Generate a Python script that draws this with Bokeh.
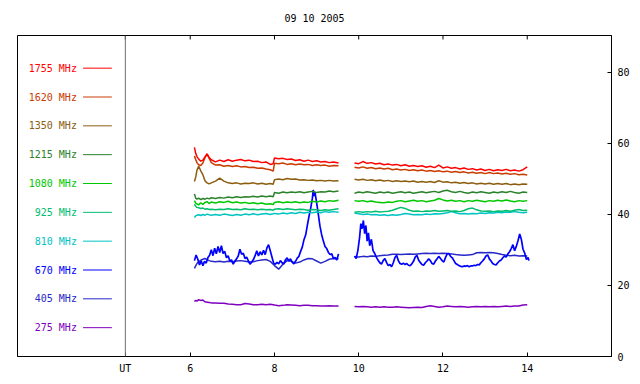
import numpy as np
from bokeh.plotting import figure
from bokeh.models import Range1d, FixedTicker, Span, ColumnDataSource
from bokeh.embed import file_html
from bokeh.resources import INLINE
from bokeh.core.properties import value

title_text = "09 10 2005"
labels = ["1755 MHz", "1620 MHz", "1350 MHz", "1215 MHz", "1080 MHz",
          "925 MHz", "810 MHz", "670 MHz", "405 MHz", "275 MHz"]
colors = ["#ff0000", "#c83c00", "#8b5e0f", "#2a832a", "#00c800",
          "#00be6e", "#00c3c3", "#0000ff", "#2828c8", "#8000c0"]
x_ticks = [4.46, 6, 8, 10, 12, 14]
y_ticks = [0, 20, 40, 60, 80]

# time grids (UT hours)
t1 = [6.10, 6.13, 6.16, 6.20, 6.25, 6.30, 6.35, 6.40, 6.45, 6.50,
      6.60, 6.70, 6.80, 6.90, 7.00, 7.10, 7.20, 7.30, 7.40, 7.50,
      7.60, 7.70, 7.80, 7.90, 7.97, 8.00, 8.10, 8.20, 8.30, 8.40,
      8.50, 8.60, 8.70, 8.80, 8.90, 9.00, 9.10, 9.20, 9.30, 9.40, 9.52]
t2 = [9.9, 10.0, 10.1, 10.2, 10.3, 10.4, 10.5, 10.6, 10.7, 10.8,
      10.9, 11.0, 11.1, 11.2, 11.3, 11.4, 11.5, 11.6, 11.7, 11.8,
      11.9, 12.0, 12.1, 12.2, 12.3, 12.4, 12.5, 12.6, 12.7, 12.8,
      12.9, 13.0, 13.1, 13.2, 13.3, 13.4, 13.5, 13.6, 13.7, 13.8, 13.9, 14.0]

f1755_a = [58.9, 57.2, 56.3, 55.6, 55.0, 55.3, 56.2, 57.1, 56.0, 55.4,
           54.8, 55.3, 54.9, 55.4, 55.0, 55.3, 55.5, 55.1, 55.3, 54.9,
           55.0, 54.6, 54.8, 54.1, 54.3, 55.9, 55.7, 55.8, 55.5, 55.6,
           55.2, 55.4, 55.0, 55.3, 54.9, 55.1, 54.8, 54.9, 54.6, 54.8, 54.5]
f1755_b = [54.5, 54.3, 54.9, 54.4, 54.6, 54.2, 54.4, 54.0, 54.2, 53.9,
           54.1, 53.7, 54.0, 53.6, 53.8, 53.5, 53.7, 53.3, 53.6, 53.2,
           53.9, 53.1, 53.4, 53.0, 53.2, 52.8, 53.1, 52.7, 52.9, 52.5,
           52.8, 52.4, 52.7, 52.3, 52.6, 52.4, 52.7, 52.3, 52.5, 52.2, 52.6, 53.4]
f1620_a = [56.5, 55.5, 54.6, 54.0, 53.8, 54.5, 56.0, 56.9, 55.8, 54.6,
           53.9, 54.0, 53.6, 53.8, 53.5, 53.7, 53.4, 53.5, 53.2, 53.3,
           53.0, 53.1, 52.8, 52.6, 52.2, 54.4, 54.3, 54.5, 54.1, 54.3,
           54.0, 54.2, 54.0, 54.1, 53.8, 54.0, 53.8, 53.9, 53.6, 53.8, 53.7]
f1620_b = [53.3, 53.1, 53.4, 53.0, 53.2, 52.9, 53.1, 52.8, 53.0, 52.6,
           52.8, 52.5, 52.7, 52.4, 52.6, 52.3, 52.5, 52.2, 52.4, 52.1,
           52.3, 52.0, 52.2, 51.9, 52.1, 51.8, 52.0, 51.7, 51.9, 51.6,
           51.8, 51.5, 51.8, 51.5, 51.7, 51.4, 51.6, 51.3, 51.5, 51.2, 51.3, 51.1]
f1350_a = [49.3, 50.5, 52.5, 53.6, 52.3, 51.2, 49.5, 48.9, 48.6, 48.9,
           49.4, 50.2, 49.4, 48.9, 48.7, 48.9, 48.6, 48.8, 48.7, 48.9,
           48.6, 48.8, 48.5, 48.7, 48.5, 49.8, 50.0, 49.8, 50.1, 49.9,
           50.0, 49.7, 49.8, 49.6, 49.7, 49.5, 49.6, 49.4, 49.6, 49.4, 49.5]
f1350_b = [49.9, 49.7, 49.9, 49.6, 49.8, 49.5, 49.7, 49.4, 49.6, 49.3,
           49.5, 49.3, 49.4, 49.2, 49.4, 49.1, 49.3, 49.1, 49.3, 49.0,
           49.5, 49.1, 49.2, 48.9, 49.1, 48.8, 49.0, 48.7, 48.9, 48.6,
           48.8, 48.6, 48.8, 48.5, 48.7, 48.5, 48.7, 48.4, 48.6, 48.4, 48.6, 48.5]
f1215_a = [45.8, 44.6, 44.3, 44.6, 44.2, 44.5, 44.3, 44.6, 44.4, 44.7,
           44.5, 44.8, 44.6, 44.9, 44.7, 45.0, 44.8, 45.0, 44.9, 45.1,
           44.9, 45.2, 45.0, 45.2, 45.0, 46.2, 46.0, 46.3, 46.1, 46.3,
           46.2, 46.4, 46.1, 46.3, 46.5, 46.2, 46.4, 46.3, 46.6, 46.4, 46.6]
f1215_b = [46.0, 46.3, 46.1, 46.4, 46.2, 46.0, 46.3, 46.1, 46.3, 46.0,
           46.2, 46.4, 46.1, 46.3, 46.0, 46.2, 46.4, 46.1, 46.3, 46.5,
           46.2, 46.6, 46.8, 46.4, 46.2, 46.5, 46.2, 46.0, 46.3, 46.1,
           46.4, 46.2, 46.0, 46.3, 46.1, 46.4, 46.2, 46.5, 46.2, 46.0, 46.3, 46.2]
f1080_a = [43.9, 43.2, 43.0, 42.7, 43.3, 42.8, 43.4, 43.6, 43.1, 43.5,
           43.2, 43.6, 43.4, 43.7, 43.3, 43.5, 43.2, 43.4, 43.1, 43.3,
           43.0, 43.2, 42.9, 43.0, 42.8, 43.4, 43.6, 43.3, 43.5, 43.4,
           43.6, 43.3, 43.5, 43.4, 43.7, 43.5, 43.8, 43.6, 43.9, 43.7, 44.0]
f1080_b = [43.9, 43.7, 43.9, 43.6, 43.8, 43.5, 43.4, 43.3, 43.5, 43.4,
           43.7, 43.9, 43.6, 43.8, 44.0, 43.7, 43.9, 43.6, 43.8, 44.0,
           44.5, 44.1, 43.8, 44.0, 43.7, 43.9, 43.6, 43.9, 43.7, 44.0,
           43.8, 43.6, 43.9, 43.7, 44.0, 43.8, 44.1, 43.8, 43.6, 43.9, 43.7, 43.9]
f925_a = [42.9, 42.3, 42.0, 41.9, 41.7, 41.8, 41.5, 41.6, 41.4, 41.5,
          41.3, 41.5, 41.4, 41.6, 41.4, 41.5, 41.3, 41.6, 41.4, 41.5,
          41.3, 41.5, 41.3, 41.4, 41.2, 41.5, 41.6, 41.4, 41.6, 41.5,
          41.3, 41.5, 41.4, 41.2, 41.4, 41.3, 41.1, 41.3, 41.2, 41.4, 41.6]
f925_b = [40.6, 40.8, 40.6, 40.8, 40.7, 40.9, 40.7, 40.8, 40.9, 41.2,
          41.6, 42.0, 41.7, 41.2, 40.9, 41.0, 40.8, 41.0, 40.9, 41.1,
          40.9, 41.0, 41.1, 40.9, 41.0, 40.8, 41.1, 41.6, 41.8, 41.3,
          41.0, 40.9, 41.0, 40.8, 41.0, 40.9, 41.1, 40.9, 41.2, 41.4, 41.1, 41.2]
f810_a = [39.1, 39.6, 39.8, 39.9, 39.7, 40.0, 39.8, 40.1, 39.9, 39.8,
          40.0, 39.8, 40.1, 39.9, 39.7, 40.0, 39.8, 40.1, 39.9, 40.2,
          39.9, 40.1, 40.3, 40.0, 40.2, 40.3, 40.1, 40.4, 40.2, 40.5,
          40.3, 40.6, 40.4, 40.6, 40.5, 40.7, 40.5, 40.8, 40.6, 40.8, 40.6]
f810_b = [40.4, 40.2, 40.0, 40.1, 39.9, 40.0, 39.8, 39.9, 39.7, 39.9,
          39.8, 40.0, 40.3, 40.1, 39.9, 40.0, 39.9, 40.1, 40.0, 40.2,
          40.1, 40.3, 40.5, 40.8, 40.5, 40.2, 40.3, 40.1, 40.3, 40.2,
          40.4, 40.3, 40.5, 40.4, 40.6, 40.5, 40.7, 40.6, 40.8, 40.6, 40.5, 40.6]
f405_a = [24.8, 25.5, 26.2, 26.7, 27.1, 27.4, 27.6, 27.3, 27.0, 26.8,
          26.7, 26.8, 26.6, 26.8, 26.7, 26.9, 27.0, 26.8, 26.6, 26.7,
          27.0, 27.2, 27.3, 26.8, 26.0, 25.6, 24.6, 26.0, 27.0, 26.8,
          26.3, 26.6, 27.2, 27.6, 27.5, 26.9, 26.3, 26.8, 27.4, 27.6, 27.5]
f405_b = [28.1, 28.0, 28.2, 28.1, 28.3, 28.2, 28.4, 28.5, 28.6, 28.8,
          28.8, 28.7, 28.8, 28.9, 28.8, 28.9, 29.0, 29.1, 29.0, 29.1,
          29.0, 29.1, 29.0, 28.9, 28.7, 28.6, 28.5, 28.6, 28.7, 29.2,
          29.3, 29.2, 29.3, 29.2, 29.0, 28.7, 28.5, 28.4, 28.5, 28.3, 28.4, 28.3]
f275_a = [15.5, 15.8, 15.6, 16.0, 15.8, 15.9, 15.4, 15.3, 15.2, 15.1,
          15.1, 15.0, 15.0, 14.8, 14.7, 14.6, 14.6, 14.9, 14.8, 14.6,
          14.6, 14.7, 14.6, 14.7, 14.6, 14.5, 14.3, 14.4, 14.6, 14.5,
          14.4, 14.3, 14.4, 14.4, 14.3, 14.3, 14.2, 14.2, 14.3, 14.2, 14.2]
f275_b = [14.1, 14.0, 14.1, 14.0, 13.9, 14.0, 13.9, 14.0, 13.9, 13.9,
          14.0, 13.9, 13.8, 13.7, 13.8, 13.9, 13.8, 14.1, 14.3, 14.1,
          13.9, 14.0, 14.2, 14.1, 14.0, 14.1, 14.0, 13.9, 14.0, 14.1,
          14.0, 14.1, 14.0, 14.1, 14.0, 14.1, 14.2, 14.1, 14.2, 14.2, 14.5, 14.6]

# 670 MHz is sampled more finely (time, value)
f670_a = [(6.10, 27.0), (6.14, 28.6), (6.18, 27.4), (6.22, 25.8), (6.26, 26.9),
          (6.30, 25.6), (6.34, 26.8), (6.38, 26.3), (6.42, 27.9), (6.46, 28.5),
          (6.50, 30.1), (6.54, 28.4), (6.58, 30.5), (6.62, 28.9), (6.66, 31.0),
          (6.70, 29.3), (6.74, 31.2), (6.78, 29.0), (6.82, 29.6), (6.86, 27.8),
          (6.90, 28.4), (6.94, 26.9), (6.98, 27.2), (7.02, 26.0), (7.06, 26.8),
          (7.10, 27.5), (7.14, 28.3), (7.18, 30.2), (7.22, 28.8), (7.26, 29.1),
          (7.30, 27.6), (7.34, 28.0), (7.38, 26.9), (7.42, 26.0), (7.46, 26.6),
          (7.50, 27.3), (7.54, 28.4), (7.58, 29.8), (7.62, 28.3), (7.66, 29.5),
          (7.70, 28.6), (7.74, 29.9), (7.78, 28.7), (7.82, 30.6), (7.86, 31.5),
          (7.90, 29.8), (7.94, 28.0), (7.98, 26.3), (8.02, 26.0), (8.06, 26.5),
          (8.10, 26.1), (8.14, 27.0), (8.18, 26.4), (8.22, 26.0), (8.26, 27.2),
          (8.30, 27.8), (8.34, 26.9), (8.38, 27.5), (8.42, 26.6), (8.46, 26.1),
          (8.50, 26.8), (8.54, 27.7), (8.58, 28.2), (8.62, 29.6), (8.66, 30.8),
          (8.70, 32.9), (8.74, 34.2), (8.78, 36.9), (8.82, 39.5), (8.86, 41.8),
          (8.90, 44.6), (8.92, 46.9), (8.94, 45.2), (8.96, 46.3), (9.00, 43.4),
          (9.04, 40.1), (9.08, 36.7), (9.12, 34.3), (9.16, 32.5), (9.20, 31.0),
          (9.24, 30.4), (9.28, 29.3), (9.32, 28.7), (9.36, 28.9), (9.40, 27.6),
          (9.44, 27.9), (9.48, 27.2), (9.52, 28.9)]
f670_b = [(9.90, 28.3), (9.94, 27.6), (9.98, 29.9), (10.02, 33.5), (10.05, 37.4),
          (10.08, 36.0), (10.11, 38.3), (10.14, 34.6), (10.17, 36.9), (10.20, 32.5),
          (10.23, 34.8), (10.26, 31.2), (10.30, 33.0), (10.34, 29.8), (10.38, 29.0),
          (10.42, 27.9), (10.46, 27.1), (10.50, 26.4), (10.54, 26.0), (10.58, 27.0),
          (10.62, 27.6), (10.66, 26.5), (10.70, 25.6), (10.74, 25.9), (10.78, 25.3),
          (10.82, 26.4), (10.86, 27.9), (10.90, 28.5), (10.94, 27.0), (10.98, 26.2),
          (11.02, 26.0), (11.06, 26.3), (11.10, 25.9), (11.14, 26.2), (11.18, 25.7),
          (11.22, 25.6), (11.26, 26.1), (11.30, 26.8), (11.34, 28.0), (11.38, 28.5),
          (11.42, 27.2), (11.46, 26.5), (11.50, 25.9), (11.54, 25.7), (11.58, 26.4),
          (11.62, 26.9), (11.66, 27.5), (11.70, 27.0), (11.74, 26.2), (11.78, 26.0),
          (11.82, 26.9), (11.86, 27.5), (11.90, 28.2), (11.94, 27.6), (11.98, 27.0),
          (12.02, 26.6), (12.06, 27.9), (12.10, 28.9), (12.14, 29.0), (12.18, 28.2),
          (12.22, 27.8), (12.26, 27.0), (12.30, 26.2), (12.34, 25.9), (12.38, 25.6),
          (12.42, 25.4), (12.46, 25.3), (12.50, 25.5), (12.54, 25.4), (12.58, 25.6),
          (12.62, 25.3), (12.66, 25.5), (12.70, 25.5), (12.74, 25.7), (12.78, 25.6),
          (12.82, 25.9), (12.86, 25.8), (12.90, 26.4), (12.94, 26.9), (12.98, 27.5),
          (13.02, 28.3), (13.06, 28.6), (13.10, 27.5), (13.14, 26.9), (13.18, 26.2),
          (13.22, 25.9), (13.26, 25.8), (13.30, 26.4), (13.34, 26.9), (13.38, 27.2),
          (13.42, 27.8), (13.46, 28.3), (13.50, 28.0), (13.54, 28.9), (13.58, 29.5),
          (13.62, 30.4), (13.66, 31.5), (13.70, 29.8), (13.74, 31.0), (13.78, 32.6),
          (13.82, 34.5), (13.86, 33.0), (13.90, 30.2), (13.94, 29.1), (13.98, 27.3),
          (14.02, 27.9), (14.04, 27.0)]

FONT = "DejaVu Sans Mono"
X_MIN, X_MAX = 1.9, 16.0
Y_MIN, Y_MAX = 0.0, 90.4
FRAME_H = 324  # px

p = figure(width=632, height=376, x_range=Range1d(X_MIN, X_MAX), y_range=Range1d(Y_MIN, Y_MAX),
           output_backend="svg", toolbar_location=None, y_axis_location="right",
           title=title_text, min_border_left=17, min_border_right=20,
           min_border_top=35, min_border_bottom=17)
p.background_fill_color = "white"
p.border_fill_color = "white"
p.outline_line_color = "black"
p.outline_line_width = 1
p.grid.visible = False
p.title.text_font = FONT
p.title.text_font_size = "10px"
p.title.text_font_style = "normal"
p.title.align = "center"
p.title.vertical_align = "top"
p.title.text_color = "black"
p.title.standoff = 20

xa = p.xaxis[0]
xa.ticker = FixedTicker(ticks=x_ticks)
xa.major_label_overrides = {4.46: "UT"}
ya = p.yaxis[0]
ya.ticker = FixedTicker(ticks=y_ticks)
for ax in (xa, ya):
    ax.major_tick_in = 4
    ax.major_tick_out = 0
    ax.minor_tick_line_color = None
    ax.axis_line_color = "black"
    ax.major_tick_line_color = "black"
    ax.major_label_text_font = FONT
    ax.major_label_text_font_size = "10px"
    ax.major_label_text_color = "black"
    ax.major_label_standoff = 6

# small inward tick marks on the top border, at the same places as the bottom ticks
tick_len = 4 * (Y_MAX - Y_MIN) / FRAME_H
p.segment(x0=x_ticks, x1=x_ticks, y0=[Y_MAX] * len(x_ticks),
          y1=[Y_MAX - tick_len] * len(x_ticks), line_color="black", line_width=1)

p.add_layout(Span(location=x_ticks[0], dimension="height", line_color="#707070", line_width=1))

series = {
    "1755 MHz": (f1755_a, f1755_b), "1620 MHz": (f1620_a, f1620_b),
    "1350 MHz": (f1350_a, f1350_b), "1215 MHz": (f1215_a, f1215_b),
    "1080 MHz": (f1080_a, f1080_b), "925 MHz": (f925_a, f925_b),
    "810 MHz": (f810_a, f810_b), "405 MHz": (f405_a, f405_b),
    "275 MHz": (f275_a, f275_b),
}
col = dict(zip(labels, colors))

draw_order = ["275 MHz", "405 MHz", "670 MHz", "810 MHz", "925 MHz",
              "1080 MHz", "1215 MHz", "1350 MHz", "1620 MHz", "1755 MHz"]
for name in draw_order:
    if name == "670 MHz":
        for seg in (f670_a, f670_b):
            ts, vs = zip(*seg)
            p.line(list(ts), list(vs), line_color=col[name], line_width=1.7)
    else:
        a, b = series[name]
        p.line(t1, a, line_color=col[name], line_width=1.5)
        p.line(t2, b, line_color=col[name], line_width=1.5)

# legend drawn at left of the frame
leg_y = [81.2 - 8.12 * k for k in range(len(labels))]
src = ColumnDataSource(dict(x=[3.31] * len(labels), x0=[3.456] * len(labels),
                            x1=[4.14] * len(labels), y=leg_y, t=labels, c=colors))
p.text(x="x", y="y", text="t", text_color="c", source=src, text_align="right",
       text_baseline="middle", text_font=value(FONT), text_font_size="10px")
p.segment(x0="x0", y0="y", x1="x1", y1="y", line_color="c", source=src, line_width=1)

open("out.html", "w").write(file_html(p, INLINE))
